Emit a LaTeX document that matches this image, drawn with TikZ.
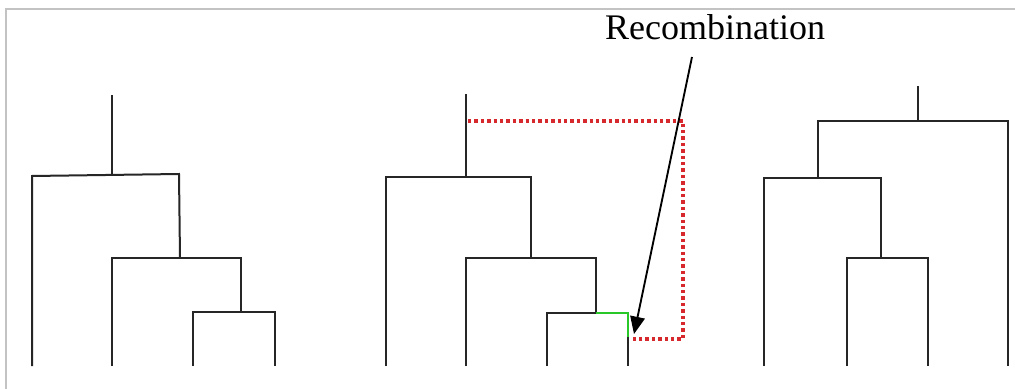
\documentclass[tikz,border=0pt]{standalone}
\usepackage{fontspec}
\setmainfont{Liberation Serif}
\usetikzlibrary{arrows.meta}
\definecolor{frame}{RGB}{195,195,195}
\definecolor{recred}{RGB}{215,40,45}
\definecolor{recgreen}{RGB}{40,200,40}
\begin{document}
\begin{tikzpicture}[x=0.75pt,y=-0.75pt,
  branch/.style={draw=black!85,line width=1.5pt},
  framel/.style={draw=frame,line width=1.4pt},
  recpath/.style={draw=recred,line width=2.8pt,dash pattern=on 2.6pt off 2.2pt},
  greenpath/.style={draw=recgreen,line width=2pt},
  pointer/.style={draw=black,line width=1.4pt,-{Triangle[length=13pt,width=11pt]}},
  lbl/.style={font=\fontsize{27}{31}\selectfont,inner sep=0pt,anchor=base}]
\useasboundingbox (0,0) rectangle (1015,389);
\fill[white] (0,0) rectangle (1015,389);
% frame
\draw[framel] (6,389) -- (6,9) -- (1015,9);

% ---------- tree 1 ----------
\coordinate (a0) at (112,95);
\coordinate (a1) at (112,175);
\coordinate (aL) at (32,176);
\coordinate (aR) at (179,174);
\coordinate (aRb) at (180,258);
\coordinate (bL) at (112,258);
\coordinate (bR) at (241,258);
\coordinate (bRb) at (241,312);
\coordinate (cL) at (193,312);
\coordinate (cR) at (275,312);
\coordinate (l1) at (32,366);
\coordinate (l2) at (112,366);
\coordinate (l3) at (193,366);
\coordinate (l4) at (275,366);
\draw[branch] (a0) -- (a1);
\draw[branch] (l1) -- (aL) -- (aR) -- (aRb);
\draw[branch] (l2) -- (bL) -- (bR) -- (bRb);
\draw[branch] (l3) -- (cL) -- (cR) -- (l4);

% ---------- tree 2 ----------
\coordinate (d0) at (466,94);
\coordinate (d1) at (466,177);
\coordinate (dL) at (386,177);
\coordinate (dR) at (531,177);
\coordinate (dRb) at (531,258);
\coordinate (eL) at (466,258);
\coordinate (eR) at (596,258);
\coordinate (eRb) at (596,313);
\coordinate (fL) at (547,313);
\coordinate (fR) at (628,313);
\coordinate (fRm) at (628,337);
\coordinate (m1) at (386,366);
\coordinate (m2) at (466,366);
\coordinate (m3) at (547,366);
\coordinate (m4) at (628,366);
\coordinate (rs) at (468,121);
\coordinate (rc1) at (683,121);
\coordinate (rc2) at (683,339);
\coordinate (re) at (630,339);
\draw[branch] (d0) -- (d1);
\draw[branch] (m1) -- (dL) -- (dR) -- (dRb);
\draw[branch] (m2) -- (eL) -- (eR) -- (eRb);
\draw[branch] (m3) -- (fL) -- (eRb);
\draw[branch] (fRm) -- (m4);
\draw[greenpath] (eRb) -- (fR) -- (fRm);
\draw[recpath] (rs) -- (rc1) -- (rc2) -- (re);

% label and pointer
\node[lbl] (rec) at (715,40) {Recombination};
\coordinate (p0) at (692,57);
\coordinate (p1) at (634,334);
\draw[pointer] (p0) -- (p1);

% ---------- tree 3 ----------
\coordinate (g0) at (918,86);
\coordinate (g1) at (918,121);
\coordinate (gL) at (818,121);
\coordinate (gR) at (1008,121);
\coordinate (gLb) at (818,178);
\coordinate (hL) at (764,178);
\coordinate (hR) at (881,178);
\coordinate (hRb) at (881,258);
\coordinate (iL) at (847,258);
\coordinate (iR) at (928,258);
\coordinate (n1) at (764,366);
\coordinate (n2) at (847,366);
\coordinate (n3) at (928,366);
\coordinate (n4) at (1008,366);
\draw[branch] (g0) -- (g1);
\draw[branch] (gLb) -- (gL) -- (gR) -- (n4);
\draw[branch] (n1) -- (hL) -- (hR) -- (hRb);
\draw[branch] (n2) -- (iL) -- (iR) -- (n3);
\end{tikzpicture}
\end{document}
